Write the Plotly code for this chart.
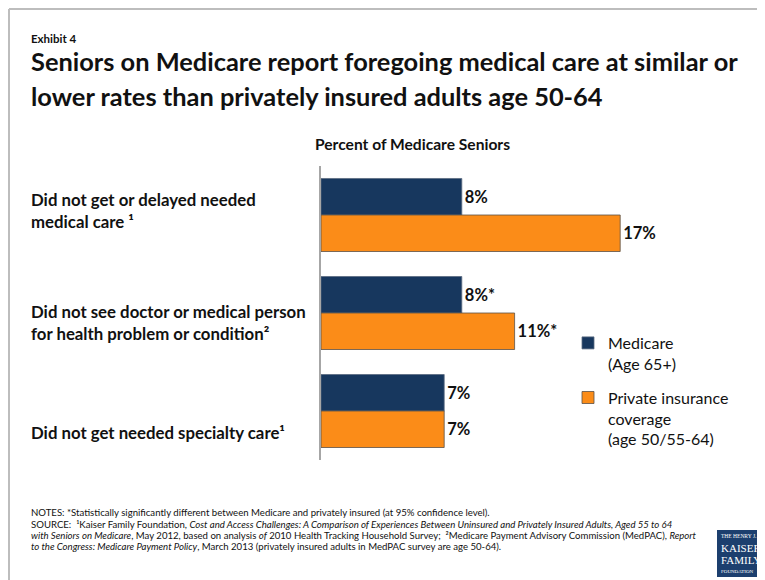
import plotly.graph_objects as go

# The page body adds an 8px margin, so the figure is sized and placed to
# line up with the 765x580 window.
OFF = 8
W, H = 765 - OFF, 580 - OFF

# ---- data ----
categories = [
    "Did not get or delayed needed medical care ¹",
    "Did not see doctor or medical person for health problem or condition²",
    "Did not get needed specialty care¹",
]
category_lines = [
    ["Did not get or delayed needed", "medical care ¹"],
    ["Did not see doctor or medical person", "for health problem or condition²"],
    ["Did not get needed specialty care¹"],
]
medicare_values = [8, 8, 7]
private_values = [17, 11, 7]
medicare_sig = ["", "*", ""]
private_sig = ["", "*", ""]
series_names = ["Medicare<br>(Age 65+)", "Private insurance<br>coverage<br>(age 50/55-64)"]

NAVY = "#17375e"
ORANGE = "#fb8c18"
FONT = "Lato"


def px_x(x):
    return (x - OFF) / W


def px_y(y):
    return 1 - (y - OFF) / H


med_text = [f"<b>{v}%{s}</b>" for v, s in zip(medicare_values, medicare_sig)]
pri_text = [f"<b>{v}%{s}</b>" for v, s in zip(private_values, private_sig)]

fig = go.Figure()
fig.add_trace(go.Bar(
    y=categories, x=medicare_values, orientation="h", name=series_names[0],
    marker=dict(color=NAVY, line=dict(color="#5b6b80", width=0.8)),
    text=med_text, textposition="outside", cliponaxis=False,
    textfont=dict(family=FONT, size=16.5, color="#111111"),
    legendgroup="a", hoverinfo="skip",
))
fig.add_trace(go.Bar(
    y=categories, x=private_values, orientation="h", name=series_names[1],
    marker=dict(color=ORANGE, line=dict(color="#5a5148", width=0.8)),
    text=pri_text, textposition="outside", cliponaxis=False,
    textfont=dict(family=FONT, size=16.5, color="#111111"),
    legendgroup="b", hoverinfo="skip",
))

annotations = []
annotations.append(dict(text="<b>Exhibit 4</b>", x=px_x(29), y=px_y(38), xref="paper", yref="paper",
                        xanchor="left", yanchor="middle", showarrow=False,
                        font=dict(family=FONT, size=11.5, color="#111111")))
for txt, yy in [("Seniors on Medicare report foregoing medical care at similar or", 61),
                ("lower rates than privately insured adults age 50-64", 96)]:
    annotations.append(dict(text=f"<b>{txt}</b>", x=px_x(29), y=px_y(yy), xref="paper", yref="paper",
                            xanchor="left", yanchor="middle", showarrow=False,
                            font=dict(family=FONT, size=25.4, color="#111111")))
annotations.append(dict(text="<b>Percent of Medicare Seniors</b>", x=px_x(412.5), y=px_y(144),
                        xref="paper", yref="paper", xanchor="center", yanchor="middle",
                        showarrow=False, font=dict(family=FONT, size=15.6, color="#111111")))
label_y = [210.5, 322, 432]
for lines, yy in zip(category_lines, label_y):
    annotations.append(dict(text="<b>" + "<br>".join(lines) + "</b>", x=px_x(29), y=px_y(yy),
                            xref="paper", yref="paper", xanchor="left", yanchor="middle",
                            align="left", showarrow=False,
                            font=dict(family=FONT, size=16.8, color="#111111")))
notes = [
    (512, "NOTES: *Statistically significantly different between Medicare and privately insured (at 95% confidence level)."),
    (524, "SOURCE:  ¹Kaiser Family Foundation, <i>Cost and Access Challenges: A Comparison of Experiences Between Uninsured and Privately Insured Adults, Aged 55 to 64</i>"),
    (535, "<i>with Seniors on Medicare</i>, May 2012, based on analysis <i>of</i> 2010 Health Tracking Household Survey;  ²Medicare Payment Advisory Commission (MedPAC), <i>Report</i>"),
    (546, "<i>to the Congress: Medicare Payment Policy</i>, March 2013 (privately insured adults in MedPAC survey are age 50-64)."),
]
for yy, txt in notes:
    annotations.append(dict(text=txt, x=px_x(29), y=px_y(yy), xref="paper", yref="paper",
                            xanchor="left", yanchor="middle", showarrow=False,
                            font=dict(family=FONT, size=9.6, color="#111111")))
for txt, yy, sz in [("THE HENRY J.", 536, 5.5), ("KAISER", 548, 11), ("FAMILY", 560, 11), ("FOUNDATION", 571, 5)]:
    annotations.append(dict(text=txt, x=px_x(718.5), y=px_y(yy), xref="paper", yref="paper",
                            xanchor="left", yanchor="middle", showarrow=False,
                            font=dict(family="Liberation Serif", size=sz, color="white")))

shapes = [
    dict(type="line", xref="paper", yref="paper", x0=px_x(9), x1=1.0, y0=px_y(9), y1=px_y(9),
         line=dict(color="#bdbdbd", width=2)),
    dict(type="line", xref="paper", yref="paper", x0=px_x(9), x1=px_x(9), y0=px_y(9), y1=0,
         line=dict(color="#bdbdbd", width=2)),
    dict(type="rect", xref="paper", yref="paper", x0=px_x(717), x1=1.0, y0=px_y(530), y1=px_y(577),
         fillcolor="#1c3f6e", line=dict(width=0)),
]

fig.update_layout(
    width=W, height=H,
    margin=dict(l=0, r=0, t=0, b=0),
    paper_bgcolor="white", plot_bgcolor="white",
    barmode="group", bargap=0.255, bargroupgap=0,
    font=dict(family=FONT, color="#111111"),
    xaxis=dict(domain=[px_x(321), px_x(761)], range=[0, 25], visible=False, fixedrange=True),
    yaxis=dict(domain=[px_y(460), px_y(166)], range=[2.5, -0.5], type="category",
               showticklabels=False, ticks="", showgrid=False, zeroline=False,
               showline=True, linecolor="#a6a6a6", linewidth=2, fixedrange=True),
    showlegend=True,
    legend=dict(x=px_x(568), y=px_y(326), xanchor="left", yanchor="top",
                font=dict(family=FONT, size=16, color="#111111"),
                traceorder="grouped", tracegroupgap=10, valign="top",
                bgcolor="rgba(0,0,0,0)"),
    annotations=annotations,
    shapes=shapes,
)

fig.write_html("out.html")
